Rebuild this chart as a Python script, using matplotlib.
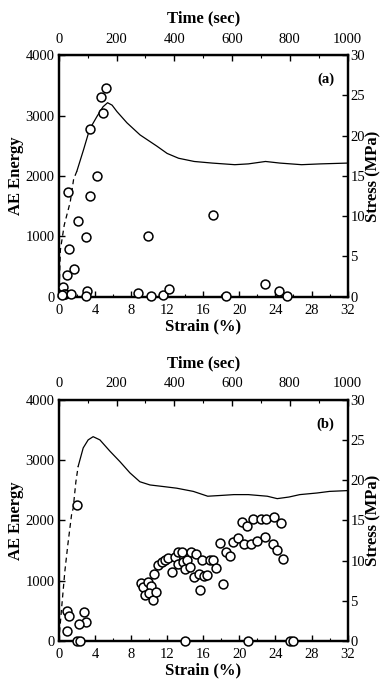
import matplotlib
matplotlib.use("Agg")
import matplotlib.pyplot as plt
from matplotlib.ticker import MultipleLocator

plt.rcParams['font.family'] = ['Liberation Serif', 'DejaVu Serif']

# ---------------- data: panel (a) ----------------
a_ae_strain = [5.22, 4.71, 4.85, 3.41, 4.23, 0.97, 3.41, 2.08, 3.05, 9.83, 1.16, 1.72,
               0.91, 0.47, 0.72, 0.53, 1.35, 3.12, 3.05, 8.77, 10.24, 11.54, 12.16,
               17.08, 18.5, 22.8, 24.35, 25.3, 0.3]
a_ae_energy = [3465, 3300, 3051, 2776, 1992, 1733, 1660, 1258, 982, 998, 790, 464,
               364, 154, 50, 40, 50, 100, 15, 66, 5, 30, 127,
               1361, 10, 207, 96, 5, 20]

a_rise_strain = [0.0, 0.1, 0.17, 0.6, 1.27, 1.64, 2.0]
a_rise_stress = [0.0, 3.0, 5.8, 8.9, 11.8, 14.6, 15.6]
a_main_strain = [2.0, 2.75, 3.41, 4.23, 4.9, 5.4, 5.9, 6.44, 7.55, 9.0, 10.87, 12.0,
                 13.27, 15.0, 17.0, 19.5, 21.0, 22.9, 24.5, 26.9, 29.0, 32.0]
a_main_stress = [15.6, 18.3, 20.8, 22.4, 23.6, 24.1, 23.8, 23.0, 21.6, 20.1, 18.7, 17.8,
                 17.2, 16.8, 16.6, 16.4, 16.5, 16.8, 16.6, 16.4, 16.5, 16.6]

# ---------------- data: panel (b) ----------------
b_ae_strain = [0.92, 1.15, 0.92, 2.81, 2.96, 2.22, 1.96, 2.33, 13.97, 1.96,
               9.06, 9.28, 9.83, 10.2, 9.54, 10.0, 10.4, 10.8, 10.5, 11.0, 11.4, 11.76,
               12.1, 12.5, 12.87, 13.2, 13.7, 13.2, 13.8, 14.2, 14.0, 14.5, 14.7, 15.2,
               15.0, 15.5, 15.6, 15.9, 16.1, 16.4, 16.75, 17.1, 17.4, 17.86, 18.2, 18.5,
               19.0, 19.3, 19.8, 20.3, 20.9, 20.5, 21.3, 21.55, 22.0, 22.4, 22.85, 23.0,
               23.8, 23.7, 24.2, 24.6, 24.8, 21.0, 25.6, 26.0]
b_ae_energy = [498, 415, 171, 486, 320, 277, 0, 0, 0, 2255,
               957, 900, 983, 917, 763, 790, 680, 818, 1111, 1260, 1315, 1343,
               1371, 1149, 1398, 1471, 1471, 1272, 1315, 1343, 1194, 1232, 1471, 1438,
               1066, 1106, 846, 1343, 1083, 1094, 1348, 1348, 1205, 1620, 945, 1471,
               1415, 1637, 1713, 1968, 1907, 1604, 1604, 2023, 1658, 2023, 1730, 2023,
               2061, 1604, 1509, 1952, 1360, 0, 0, 0]

b_rise_strain = [0.0, 0.3, 0.67, 1.0, 1.41, 1.59, 1.89, 2.14]
b_rise_stress = [0.0, 4.0, 8.7, 12.0, 15.7, 16.5, 19.8, 21.7]
b_main_strain = [2.14, 2.7, 3.25, 3.8, 4.55, 5.66, 6.77, 7.88, 8.98, 10.1, 11.6, 13.05,
                 14.9, 16.5, 18.0, 19.4, 21.0, 23.1, 24.2, 25.5, 26.7, 28.6, 30.0, 32.0]
b_main_stress = [21.7, 24.0, 25.0, 25.4, 25.0, 23.6, 22.3, 20.9, 19.8, 19.4, 19.2, 19.0,
                 18.6, 18.0, 18.1, 18.2, 18.2, 18.0, 17.7, 17.9, 18.2, 18.4, 18.6, 18.7]

strain_ticks = [0, 4, 8, 12, 16, 20, 24, 28, 32]
time_ticks = [0, 200, 400, 600, 800, 1000]
ae_ticks = [0, 1000, 2000, 3000, 4000]
stress_ticks = [0, 5, 10, 15, 20, 25, 30]

fig = plt.figure(figsize=(3.82, 6.82), dpi=100)


def panel(rect, ae_x, ae_y, rx, ry, mx, my, tag):
    ax = fig.add_axes(rect)
    ax.set_xlim(0, 32)
    ax.set_ylim(0, 4000)
    ax.set_xticks(strain_ticks)
    ax.set_yticks(ae_ticks)
    ax.xaxis.set_minor_locator(MultipleLocator(2))
    for s in ax.spines.values():
        s.set_linewidth(1.6)
    ax.tick_params(direction='in', length=4, width=1, labelsize=10.5, pad=3,
                   top=False, right=False)
    ax.tick_params(axis='x', pad=5)
    ax.tick_params(which='minor', direction='in', length=2, width=0.8, top=False)
    ax.set_xlabel('Strain (%)', fontsize=12, fontweight='bold', labelpad=1)
    ax.set_ylabel('AE Energy', fontsize=12, fontweight='bold', labelpad=1)
    ax.text(0.955, 0.9, tag, transform=ax.transAxes, ha='right', va='center',
            fontsize=10.5, fontweight='bold')

    ax2 = ax.twinx()
    ax2.set_ylim(0, 30)
    ax2.set_yticks(stress_ticks)
    ax2.tick_params(direction='in', length=4, width=1, labelsize=10.5, pad=2)
    ax2.set_ylabel('Stress (MPa)', fontsize=12, fontweight='bold', labelpad=0)
    ax2.plot(rx, ry, color='black', lw=0.9, ls=(0, (4, 3)))
    ax2.plot(mx, my, color='black', lw=0.9)

    ax.plot(ae_x, ae_y, ls='none', marker='o', ms=6.4, mfc='white', mec='black',
            mew=1.1, clip_on=False, zorder=5)
    ax.set_zorder(ax2.get_zorder() + 1)
    ax.patch.set_visible(False)

    top = ax.secondary_xaxis('top', functions=(lambda s: s * 1000 / 32,
                                               lambda t: t * 32 / 1000))
    top.set_xticks(time_ticks)
    top.xaxis.set_minor_locator(MultipleLocator(100))
    top.tick_params(direction='in', length=4, width=1, labelsize=10.5, pad=7)
    top.tick_params(which='minor', direction='in', length=2, width=0.8)
    top.set_xlabel('Time (sec)', fontsize=12, fontweight='bold', labelpad=7)
    for s in ax2.spines.values():
        s.set_linewidth(1.6)
    return ax


panel([0.154, 0.565, 0.756, 0.354], a_ae_strain, a_ae_energy,
      a_rise_strain, a_rise_stress, a_main_strain, a_main_stress, '(a)')
panel([0.154, 0.060, 0.756, 0.354], b_ae_strain, b_ae_energy,
      b_rise_strain, b_rise_stress, b_main_strain, b_main_stress, '(b)')

fig.savefig('out.png', dpi=100)
